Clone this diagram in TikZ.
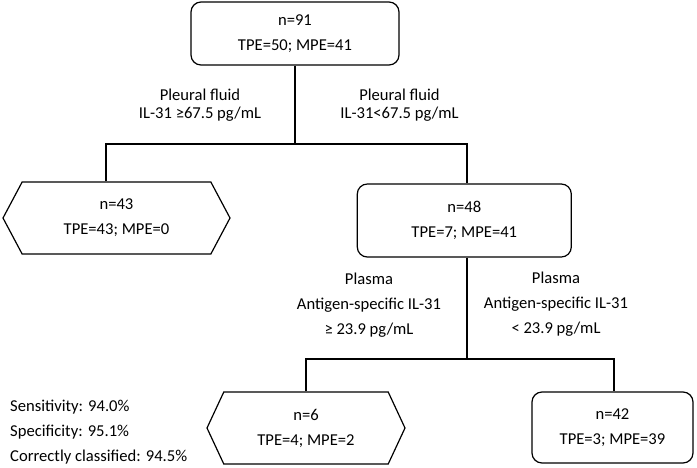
\documentclass[tikz,border=0pt]{standalone}
\usepackage{fontspec}
\setmainfont{Carlito}
\usepackage{tikz}
\usetikzlibrary{shapes.symbols}

\begin{document}
\begin{tikzpicture}[x=1pt,y=-1pt]
			\tikzstyle{every node} = [font=\fontsize{16.6}{25}\selectfont, align=center, inner sep=0pt]
			\tikzstyle{box} = [draw, line width=1.2pt, rectangle, rounded corners=10pt]
			\tikzstyle{hex} = [draw, line width=1.2pt, signal, signal to=west and east]
			\tikzstyle{cut} = [font=\fontsize{16.6}{18}\selectfont]
			\tikzstyle{edge} = [line width=1.2pt]
			\useasboundingbox (0,0) rectangle (697,467);
			
			\node [box, minimum width=208, minimum height=63] (root) at (295,33.5) {n=91\\TPE=50; MPE=41};
			\node [hex, minimum width=227, minimum height=72, signal pointer angle=124] (n43) at (116.5,218) {n=43\\TPE=43; MPE=0};
			\node [box, minimum width=214, minimum height=73] (n48) at (464.3,220.5) {n=48\\TPE=7; MPE=41};
			\node [hex, minimum width=198, minimum height=72, signal pointer angle=130] (n6) at (306,428) {n=6\\TPE=4; MPE=2};
			\node [box, minimum width=161, minimum height=71] (n42) at (612.5,427.5) {n=42\\TPE=3; MPE=39};
			
			\node [cut] (pfhi) at (200,105) {Pleural fluid\\IL-31 ≥67.5 pg/mL};
			\node [cut] (pflo) at (399.5,105) {Pleural fluid\\IL-31<67.5 pg/mL};
			\node (plhi) at (369,305) {Plasma\\Antigen-specific IL-31\\≥ 23.9 pg/mL};
			\node (pllo) at (556,304.5) {Plasma\\Antigen-specific IL-31\\< 23.9 pg/mL};
			
			\node [anchor=west, align=left] (stats) at (10,432.5) {Sensitivity: 94.0\%\\Specificity: 95.1\%\\Correctly classified: 94.5\%};
			
			\coordinate (fork1) at (295,144);
			\coordinate (fork2) at (467,359);
			
			\draw [edge] (root.south) -- (fork1);
			\draw [edge] ([xshift=-10.5pt]n43.north) |- (fork1) -| ([xshift=2.7pt]n48.north);
			\draw [edge] ([xshift=2.7pt]n48.south) -- (fork2);
			\draw [edge] (n6.north) |- (fork2) -| ([xshift=1.5pt]n42.north);
			
		\end{tikzpicture}
\end{document}
